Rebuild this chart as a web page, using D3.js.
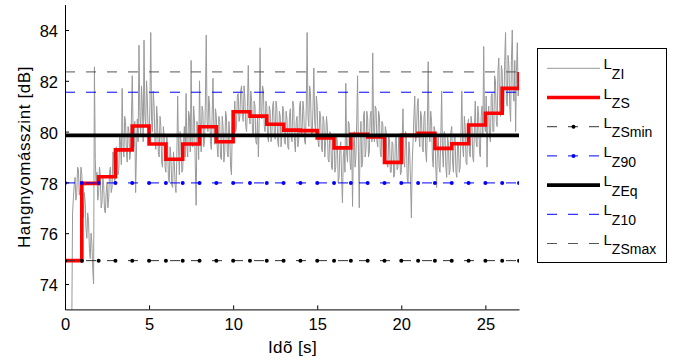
<!DOCTYPE html>
<html>
<head>
<meta charset="utf-8">
<script src="https://cdn.jsdelivr.net/npm/d3@7"></script>
<style>
  body { margin: 0; background: #fff; }
  svg { display: block; font-family: "Liberation Sans", Arial, sans-serif; }
</style>
</head>
<body>
<div id="app"></div>
<script>
// sampled sound level L_ZI, starts at lziStart [s], one value every lziStep [s]
const lziStart = 0.4
const lziStep = 0.05
const lziValues = [
  72.0, 76.8,
  77.4, 77.9, 78.2, 77.3, 77.6, 78.6, 78.5, 77.5, 77.8, 78.6,
  78.3, 77.4, 76.6, 77.6, 77.2, 76.2, 75.8, 76.8, 76.5, 75.4, 75.0, 76.0, 75.6, 74.6, 74.0, 82.55, 78.9, 77.9, 78.4, 77.3,
  77.6, 78.6, 78.3, 77.0, 77.2, 78.2, 77.9, 76.9, 76.8, 77.6, 78.0, 77.0, 77.4, 78.4, 78.6, 77.6, 77.8, 79.2, 79.0, 78.0,
  78.2, 79.4, 79.3, 78.3, 78.5, 79.9, 79.6, 78.7, 81.7, 79.4, 79.0, 80.6, 80.4, 79.2, 78.8, 80.2, 80.0, 78.9, 79.2, 80.5,
  82.2, 80.0, 79.4, 80.4, 77.6, 79.2, 80.5, 79.6, 83.4, 80.8, 79.8, 81.8, 81.0, 79.6, 83.6, 80.6, 80.2, 82.0, 81.2, 79.8,
  79.6, 81.0, 83.9, 80.4, 80.0, 81.6, 81.0, 79.6, 79.3, 81.0, 80.5, 79.2, 79.0, 80.6, 80.2, 78.8, 78.6, 80.2, 79.8, 78.6,
  78.4, 79.8, 79.5, 78.2, 78.0, 79.4, 79.0, 77.9, 77.8, 79.2, 78.8, 77.9, 77.6, 79.0, 81.4, 79.4, 78.3, 80.0, 79.6, 78.4,
  78.5, 79.6, 80.2, 79.0, 81.5, 79.4, 79.0, 80.8, 80.6, 79.2, 82.8, 79.6, 79.4, 81.0, 80.5, 78.6, 77.1, 80.4, 79.8, 78.9,
  82.0, 80.0, 79.2, 81.0, 80.8, 79.4, 79.6, 81.2, 83.8, 80.4, 80.0, 81.4, 81.0, 79.6, 79.3, 80.6, 82.1, 80.2, 79.5, 80.9,
  80.6, 79.4, 79.0, 80.6, 80.4, 79.0, 78.9, 80.6, 80.2, 78.8, 79.2, 80.8, 80.6, 79.2, 79.0, 80.4, 79.8, 78.6, 78.3, 80.2,
  79.6, 80.6, 81.2, 80.0, 80.2, 81.4, 81.5, 80.4, 80.6, 81.6, 81.8, 80.6, 80.4, 81.8, 81.3, 80.2, 80.0, 81.0, 82.6, 80.8,
  80.3, 81.6, 81.2, 80.0, 79.8, 81.2, 81.0, 79.6, 79.5, 80.6, 79.0, 80.4, 83.3, 80.8, 80.5, 81.8, 81.6, 80.2, 80.0, 81.2,
  81.0, 79.8, 79.6, 81.0, 80.8, 79.6, 79.8, 81.0, 81.2, 79.9, 79.7, 81.2, 80.9, 79.6, 79.4, 80.8, 80.6, 79.4, 79.9, 81.0,
  80.8, 79.6, 79.5, 80.8, 80.5, 79.4, 79.3, 80.6, 80.9, 79.8, 79.6, 81.2, 81.0, 79.6, 79.2, 80.4, 80.6, 79.4, 79.7, 81.0,
  81.2, 79.8, 80.0, 81.2, 80.8, 79.6, 79.5, 81.0, 83.9, 80.6, 80.2, 81.8, 81.5, 80.0, 79.8, 81.0, 82.5, 80.4, 80.0, 81.4,
  81.0, 79.6, 79.4, 80.8, 80.6, 79.4, 79.2, 80.6, 80.4, 79.0, 79.6, 80.6, 80.2, 78.9, 78.8, 80.0, 79.9, 78.6, 78.5, 79.9,
  79.8, 78.4, 78.6, 79.9, 79.5, 78.0, 78.2, 79.4, 79.6, 78.2, 77.2, 79.0, 79.3, 78.4, 81.9, 79.2, 78.8, 80.4, 80.3, 78.8,
  78.5, 79.6, 77.05, 79.4, 80.0, 78.6, 79.0, 80.4, 82.2, 79.2, 77.0, 79.6, 80.4, 78.6, 78.8, 80.6, 80.8, 79.0, 79.3, 80.8,
  80.5, 79.0, 79.2, 80.6, 80.8, 79.6, 83.1, 80.2, 79.6, 81.0, 80.9, 79.6, 79.4, 80.8, 80.6, 79.2, 79.0, 80.4, 80.3, 78.9,
  78.8, 80.2, 80.0, 78.7, 78.6, 79.8, 79.7, 78.4, 78.4, 79.6, 79.5, 78.2, 78.3, 79.7, 79.8, 78.5, 78.6, 79.9, 79.6, 78.3,
  78.4, 79.6, 80.9, 78.9, 78.6, 80.0, 79.8, 78.2, 78.0, 79.6, 79.2, 78.0, 76.6, 78.8, 79.6, 80.6, 81.4, 79.6, 79.8, 81.0,
  81.3, 79.8, 79.4, 80.8, 80.6, 79.4, 79.2, 80.6, 80.8, 79.2, 78.8, 80.2, 82.75, 80.0, 79.6, 80.8, 80.4, 79.0, 78.6, 80.2,
  80.0, 78.6, 77.8, 79.4, 79.8, 78.6, 78.4, 79.8, 81.6, 79.2, 78.6, 80.0, 79.9, 78.6, 78.2, 79.8, 79.6, 78.3, 78.5, 80.0,
  80.2, 78.8, 78.4, 79.8, 79.8, 78.4, 78.2, 79.6, 79.5, 78.4, 78.6, 80.0, 81.6, 79.4, 79.0, 80.6, 80.2, 78.8, 78.7, 80.2,
  80.5, 79.2, 79.0, 80.6, 80.3, 79.0, 78.8, 80.2, 81.2, 79.6, 79.4, 81.0, 80.6, 79.2, 79.0, 80.6, 81.0, 79.8, 83.35, 80.4,
  80.0, 81.4, 78.6, 80.6, 81.0, 79.8, 79.6, 81.4, 81.5, 80.0, 80.0, 82.2, 82.0, 80.4, 80.2, 82.4, 82.9, 80.8, 80.6, 82.6,
  82.4, 80.8, 80.8, 82.8, 83.9, 81.2, 81.0, 83.0, 82.6, 81.0, 80.4, 82.8, 84.0, 81.6, 81.2, 82.8, 80.0, 82.4, 83.5, 81.4,
  81.8
]

// L_ZS, one value per second (t = 0, 1, ..., 27)
const lzsValues = [
  74.92, 77.96, 78.22, 79.28, 80.22, 79.51, 78.91, 79.51, 80.19, 79.6,
  80.78, 80.61, 80.29, 80.06, 80.04, 79.75, 79.36, 79.89, 79.79, 78.79,
  79.85, 79.93, 79.34, 79.52, 80.26, 80.72, 81.70, 82.35
]

// statistical levels
const lzsMin = 74.92
const lz90 = 77.98
const lzEq = 79.85
const lz10 = 81.55
const lzsMax = 82.35

const legendSubs = ["ZI", "ZS", "ZSmin", "Z90", "ZEq", "Z10", "ZSmax"]
const xTicks = [0, 5, 10, 15, 20, 25]
const yTicks = [74, 76, 78, 80, 82, 84]
const xDomain = [0, 27]
const yDomain = [73, 85]

const W = 675, H = 362
const fx = d3.scaleLinear().domain(xDomain).range([65, 519])
const fy = d3.scaleLinear().domain(yDomain).range([309.4, 4.6])

const svg = d3.select("#app").append("svg")
  .attr("width", W)
  .attr("height", H)

svg.append("clipPath").attr("id", "clip")
  .append("rect")
    .attr("x", fx(xDomain[0])).attr("y", fy(yDomain[1]))
    .attr("width", fx(xDomain[1]) - fx(xDomain[0]))
    .attr("height", fy(yDomain[0]) - fy(yDomain[1]))

const plot = svg.append("g").attr("clip-path", "url(#clip)")

const lziData = lziValues.map((v, i) => [lziStart + i * lziStep, v])
const lzsData = lzsValues.map((v, i) => [i, v])
const markerTimes = d3.range(xDomain[0], xDomain[1] + 1)

const line = d3.line().x(d => fx(d[0])).y(d => fy(d[1]))
const stepLine = d3.line().x(d => fx(d[0])).y(d => fy(d[1])).curve(d3.curveStepAfter)

// styles for the level lines, in drawing order
const styles = {
  ZI: { stroke: "#999999", width: 1 },
  ZS: { stroke: "#ff0000", width: 3.6 },
  ZSmin: { stroke: "#333333", width: 1, dash: "10,11", marker: "#000000" },
  Z90: { stroke: "#0000ff", width: 1, dash: "10,11", marker: "#0000ff" },
  ZEq: { stroke: "#000000", width: 3.6 },
  Z10: { stroke: "#0000ff", width: 1, dash: "10,11" },
  ZSmax: { stroke: "#555555", width: 1, dash: "10,11" }
}

plot.append("path")
  .datum(lziData)
  .attr("d", line)
  .attr("fill", "none")
  .attr("stroke", styles.ZI.stroke)
  .attr("stroke-width", styles.ZI.width)
  .attr("stroke-linejoin", "round")

plot.append("path")
  .datum(lzsData)
  .attr("d", stepLine)
  .attr("fill", "none")
  .attr("stroke", styles.ZS.stroke)
  .attr("stroke-width", styles.ZS.width)

function hline(value, st) {
  const g = plot.append("g")
  g.append("path")
    .datum(xDomain.map(t => [t, value]))
    .attr("d", line)
    .attr("fill", "none")
    .attr("stroke", st.stroke)
    .attr("stroke-width", st.width)
    .attr("stroke-dasharray", st.dash || null)
  if (st.marker) {
    g.selectAll("circle")
      .data(markerTimes)
      .join("circle")
        .attr("cx", d => fx(d))
        .attr("cy", fy(value))
        .attr("r", 2)
        .attr("fill", st.marker)
  }
}

hline(lzsMin, styles.ZSmin)
hline(lz90, styles.Z90)
hline(lzEq, styles.ZEq)
hline(lz10, styles.Z10)
hline(lzsMax, styles.ZSmax)

// axes, ticks pointing inward
const gx = svg.append("g")
  .attr("transform", `translate(0,${fy(yDomain[0])})`)
  .call(d3.axisBottom(fx).tickValues(xTicks).tickFormat(d3.format("d"))
    .tickSizeInner(-4).tickSizeOuter(0).tickPadding(8.5))
gx.select(".domain").attr("stroke", "#000")
gx.selectAll("text").attr("font-size", 16.5).attr("fill", "#000")
gx.attr("font-family", null)

const gy = svg.append("g")
  .attr("transform", `translate(${fx(xDomain[0])},0)`)
  .call(d3.axisLeft(fy).tickValues(yTicks).tickFormat(d3.format("d"))
    .tickSizeInner(-4).tickSizeOuter(0).tickPadding(7))
gy.select(".domain").attr("stroke", "#000")
gy.selectAll("text").attr("font-size", 16.5).attr("fill", "#000").attr("dy", "0.4em")
gy.attr("font-family", null)

svg.append("text")
  .attr("x", 292.5).attr("y", 352.5)
  .attr("text-anchor", "middle")
  .attr("font-size", 17)
  .attr("letter-spacing", 0.4)
  .text("Idõ [s]")

svg.append("text")
  .attr("transform", `translate(30,${(fy(yDomain[0]) + fy(yDomain[1])) / 2}) rotate(-90)`)
  .attr("text-anchor", "middle")
  .attr("font-size", 17)
  .attr("letter-spacing", 0.6)
  .text("Hangnyomásszint [dB]")

// legend
const legend = svg.append("g")
legend.append("rect")
  .attr("x", 537.5).attr("y", 48.5)
  .attr("width", 129).attr("height", 214)
  .attr("fill", "#fff").attr("stroke", "#000").attr("stroke-width", 1)

legendSubs.forEach((sub, i) => {
  const y = 68.3 + i * 29.2
  const st = styles[sub]
  legend.append("line")
    .attr("x1", 547).attr("x2", 600)
    .attr("y1", y).attr("y2", y)
    .attr("stroke", st.stroke)
    .attr("stroke-width", st.width)
    .attr("stroke-dasharray", st.dash || null)
  if (st.marker) {
    legend.append("circle")
      .attr("cx", 573.5).attr("cy", y).attr("r", 2)
      .attr("fill", st.marker)
  }
  const t = legend.append("text")
    .attr("x", 603.5).attr("y", y + 1)
    .attr("font-size", 15)
  t.append("tspan").text("L")
  t.append("tspan")
    .attr("dy", 9.7)
    .attr("font-size", 14)
    .text(sub)
})
</script>
</body>
</html>
